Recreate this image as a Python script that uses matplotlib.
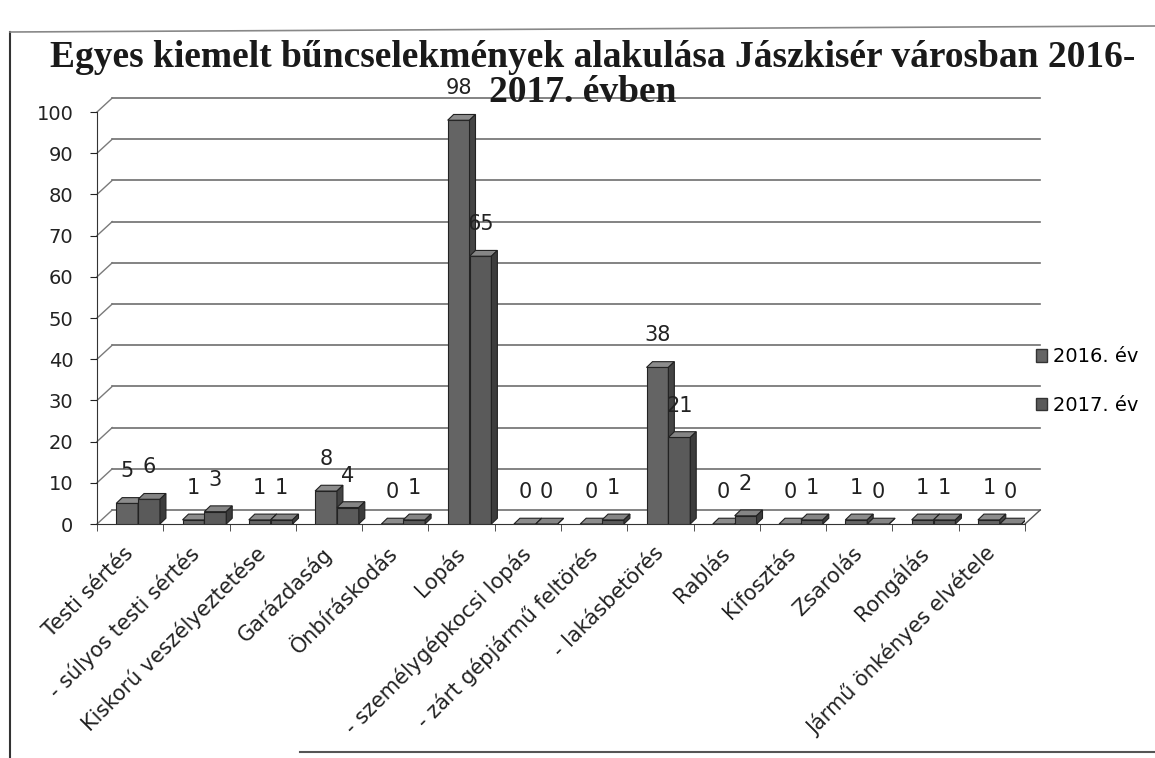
import matplotlib
matplotlib.use("Agg")
import matplotlib.pyplot as plt
from matplotlib.patches import Polygon, Patch
from matplotlib.lines import Line2D

# kategóriák és értékek
categories = ["Testi sértés", "- súlyos testi sértés", "Kiskorú veszélyeztetése",
              "Garázdaság", "Önbíráskodás", "Lopás", "- személygépkocsi lopás",
              "- zárt gépjármű feltörés", "- lakásbetörés", "Rablás", "Kifosztás",
              "Zsarolás", "Rongálás", "Jármű önkényes elvétele"]
values_2016 = [5, 1, 1, 8, 0, 98, 0, 0, 38, 0, 0, 1, 1, 1]
values_2017 = [6, 3, 1, 4, 1, 65, 0, 1, 21, 2, 1, 0, 1, 0]
series_names = ["2016. év", "2017. év"]
y_ticks = list(range(0, 101, 10))

title_line1 = "Egyes kiemelt bűncselekmények alakulása Jászkisér városban 2016-"
title_line2 = "2017. évben"

# 3D hatás paraméterei (adategységben)
BACK_DX, BACK_DY = 0.23, 3.4
BAR_DX, BAR_DY = 0.09, 1.4
BAR_W = 0.33
BAR_SHIFT = 0.12


def draw_bar_3d(ax, x, h, front, top, side):
    # első lap
    ax.bar(x, h, width=BAR_W, align="edge", color=front, edgecolor="#222222", lw=0.8, zorder=3)
    # teteje
    ax.add_patch(Polygon([(x, h), (x + BAR_DX, h + BAR_DY), (x + BAR_W + BAR_DX, h + BAR_DY),
                          (x + BAR_W, h)], closed=True, facecolor=top, edgecolor="#222222",
                         lw=0.8, zorder=3))
    # oldala
    ax.add_patch(Polygon([(x + BAR_W, 0), (x + BAR_W + BAR_DX, BAR_DY),
                          (x + BAR_W + BAR_DX, h + BAR_DY), (x + BAR_W, h)], closed=True,
                         facecolor=side, edgecolor="#222222", lw=0.8, zorder=3))


fig = plt.figure(figsize=(11.55, 7.58), dpi=100)
ax = fig.add_axes([97 / 1155, 1 - 524 / 758, (1025 - 97) / 1155, (524 - 112) / 758])

n = len(categories)
ax.set_xlim(-0.5, n - 0.5)
ax.set_ylim(0, 100)

# hátsó fal rácsvonalai + ferde összekötők
for v in y_ticks:
    ax.plot([-0.5 + BACK_DX, n - 0.5 + BACK_DX], [v + BACK_DY, v + BACK_DY],
            color="#6e6e6e", lw=1.2, clip_on=False, zorder=1)
    ax.plot([-0.5, -0.5 + BACK_DX], [v, v + BACK_DY], color="#7a7a7a", lw=1.0,
            clip_on=False, zorder=1)
ax.plot([n - 0.5, n - 0.5 + BACK_DX], [0, BACK_DY], color="#555555", lw=1.0, clip_on=False)

colors_2016 = ("#646464", "#8c8c8c", "#444444")
colors_2017 = ("#5a5a5a", "#858585", "#3c3c3c")

for i in range(n):
    x0 = i - BAR_W + BAR_SHIFT
    x1 = i + BAR_SHIFT
    draw_bar_3d(ax, x0, values_2016[i], *colors_2016)
    draw_bar_3d(ax, x1, values_2017[i], *colors_2017)
    ax.annotate(str(values_2016[i]), (x0 + BAR_W / 2, values_2016[i]), xytext=(0, 23),
                textcoords="offset points", ha="center", va="center", fontsize=15,
                color="#222222", zorder=4)
    ax.annotate(str(values_2017[i]), (x1 + BAR_W / 2, values_2017[i]), xytext=(0, 23),
                textcoords="offset points", ha="center", va="center", fontsize=15,
                color="#222222", zorder=4)

# tengelyek
for s in ["top", "right"]:
    ax.spines[s].set_visible(False)
ax.spines["left"].set_color("#333333")
ax.spines["bottom"].set_color("#333333")

ax.set_yticks(y_ticks)
ax.tick_params(axis="y", labelsize=14, length=5, pad=12, colors="#222222")

ax.set_xticks(range(n))
ax.set_xticklabels(categories, rotation=45, ha="right", va="center", rotation_mode="anchor",
                   fontsize=15, color="#222222")
ax.set_xticks([i - 0.5 for i in range(n + 1)], minor=True)
ax.tick_params(axis="x", which="major", length=0, pad=19)
ax.tick_params(axis="x", which="minor", length=5, color="#333333")

# cím
fig.text(593 / 1155, 1 - 67 / 758, title_line1, ha="center", va="baseline",
         family="Liberation Serif", fontweight="bold", fontsize=27, color="#1a1a1a")
fig.text(583 / 1155, 1 - 102 / 758, title_line2, ha="center", va="baseline",
         family="Liberation Serif", fontweight="bold", fontsize=27, color="#1a1a1a")

# jelmagyarázat
handles = [Patch(facecolor=colors_2016[0], edgecolor="#333333"),
           Patch(facecolor=colors_2017[0], edgecolor="#333333")]
fig.legend(handles, series_names, loc="center left", bbox_to_anchor=(1018 / 1155, 1 - 381 / 758),
           frameon=False, fontsize=14, handlelength=0.6, handleheight=0.6,
           handletextpad=0.3, labelspacing=1.5)

# a beszkennelt diagram kerete
fig.add_artist(Line2D([10 / 1155, 10 / 1155], [0, 1 - 32 / 758], color="#333333", lw=1.5))
fig.add_artist(Line2D([10 / 1155, 1], [1 - 32 / 758, 1 - 26 / 758], color="#888888", lw=1.2))
fig.add_artist(Line2D([300 / 1155, 1], [1 - 752 / 758, 1 - 752 / 758], color="#555555", lw=1.5))

fig.savefig("out.png", dpi=100)
